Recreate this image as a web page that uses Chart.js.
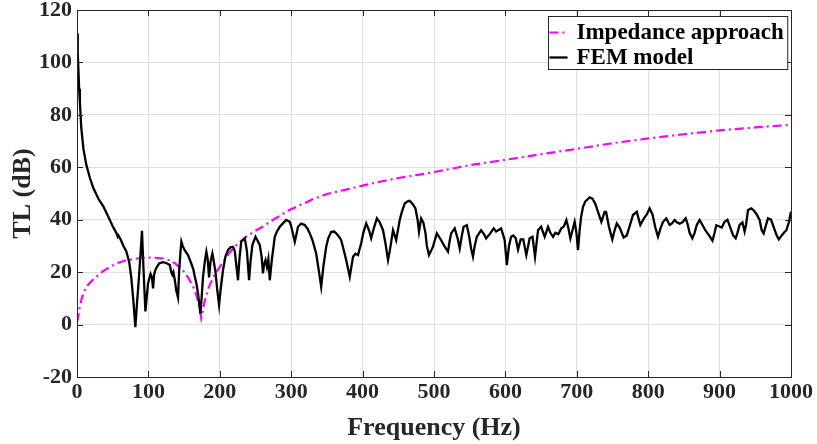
<!DOCTYPE html>
<html>
<head>
<meta charset="utf-8">
<title>TL vs frequency</title>
<script src="https://cdn.jsdelivr.net/npm/chart.js@4.4.1/dist/chart.umd.min.js"></script>
<style>
  html, body { margin: 0; padding: 0; background: #fff; }
  #wrap { width: 817px; height: 444px; position: relative; }
</style>
</head>
<body>
<div id="wrap"><canvas id="tl"></canvas></div>
<script>
const serif = "'Liberation Serif', 'Times New Roman', serif";
const ink = '#262626';

const xTicks = { min: 0, max: 1000, step: 100 };
const yTicks = { min: -20, max: 120, step: 20 };

const seriesNames = ['Impedance approach', 'FEM model'];

// [frequency (Hz), TL (dB)]
const impedanceCurve = [
  [0, 1], [1.4, 2.3], [3, 5.5], [6, 9.3], [9, 12], [13, 14.4], [20, 16.5], [27, 18.2],
  [36, 20.3], [46, 22], [57, 23.5], [69, 24.6], [80, 25], [90, 25.4], [100, 25.6],
  [110, 25.5], [121, 25.2], [130, 24.5], [137, 23.4], [144, 21.8], [150, 20.2],
  [156, 17.8], [162.5, 14.6], [167, 11.5], [170, 8.5], [172.5, 5], [174, 2.5],
  [176, 5], [178, 8], [181, 11], [185, 14.5], [190, 17.5], [195, 20], [200, 22],
  [206, 24.5], [212, 26.8], [219, 29.2], [228, 31.5], [237, 33.5], [248, 35.5],
  [260, 37.3], [272, 39.5], [284, 41.5], [296, 43.5], [307, 44.9], [320, 46.5],
  [330, 47.8], [350, 49.8], [377, 51.5], [400, 53], [424, 54.5], [452, 56],
  [475, 57], [501, 58.2], [550, 60.8], [601, 62.9], [650, 65], [704, 67.2],
  [750, 69.2], [800, 71], [850, 72.6], [900, 74.1], [950, 75.2], [1000, 76.2]
];

const femCurve = [
  [0, 111], [1, 104], [2, 97], [3, 90], [4, 85], [6, 75], [9, 67], [13, 61], [18, 56],
  [23, 52], [30, 48], [37, 45], [44, 41], [50, 37.5], [55, 35], [57, 33.5], [58, 34],
  [61, 32.5], [65, 30], [69, 28], [73, 24], [76, 18], [79, 9], [81.7, -1], [84, 8],
  [86.5, 17], [89, 27], [91, 35.8], [93, 22], [95.8, 5], [97.5, 10], [99.5, 15.7],
  [103, 19.3], [105, 18], [106.5, 13.8], [108, 19], [110, 21], [115, 23.3], [120, 23.8],
  [125, 23.5], [130, 22.7], [132, 20], [133.6, 19], [135, 20], [137, 17], [139, 13],
  [141.5, 10.3], [143, 20], [145, 28], [146.2, 31.6], [148, 30], [150.8, 28.4],
  [155.5, 26.5], [160, 23.3], [163, 21], [165, 18.2], [167, 16], [169.5, 11.9],
  [172.8, 4.2], [174.5, 10], [176.5, 18.2], [179, 24], [181.2, 27.8], [183, 25],
  [185, 18], [187, 24], [189.6, 27.1], [191, 25], [194, 20], [196.5, 13], [199, 7.4],
  [201, 13], [204.5, 20.8], [208, 26], [211.5, 28.4], [215, 29.5], [218.5, 29.7],
  [221, 28], [223, 23], [225.5, 16.9], [227.5, 25], [230, 31.6], [235, 32.9], [238, 28],
  [241, 16.9], [243, 24], [245.6, 30.3], [250, 33.5], [253, 32], [256, 30.3],
  [258.5, 26], [260.5, 19.5], [262, 23], [264, 24.6], [266, 22], [268, 25], [270, 16.9],
  [273, 25], [277, 33.5], [280, 35.5], [284, 37.3], [288, 38.5], [293, 39.9], [298, 39.2],
  [300, 37.5], [303, 34], [305, 31.6], [307, 34], [309.5, 37.3], [314, 38.5], [319, 38],
  [323, 36.5], [326, 34.8], [330, 32], [335, 27.1], [339, 20], [342, 14.4], [345, 22],
  [349, 29.7], [352, 33], [356, 35.4], [360, 35.5], [363, 34.8], [367, 33.5], [370, 32.2],
  [374, 28], [377, 24.6], [382, 18.2], [386.6, 25.9], [390, 27], [393.6, 26.5], [396, 29],
  [398, 31], [401, 35], [405, 38.6], [409, 36], [412, 32.9], [416, 37], [420, 40.5],
  [424, 39], [428.6, 36], [432, 31], [435.6, 24.6], [438, 28], [442.6, 36], [447, 32.2],
  [452, 39.9], [455, 43], [459, 46.2], [463, 47], [466, 47.2], [470, 46], [474, 44.3],
  [477, 40], [479, 35.4], [482, 40.5], [485, 39], [488, 35], [490, 30], [493, 26.5],
  [498.6, 29.7], [501, 32], [504, 34.8], [507, 33.5], [510, 32.2], [515, 29.7],
  [519.6, 27.8], [522, 32], [524, 34.8], [529, 36.7], [533, 33], [536, 29], [539, 34],
  [541.5, 37.3], [546, 37.9], [549, 34], [552, 29], [554.6, 25.9], [557, 30], [560, 33.5],
  [566, 36], [570, 34.5], [573, 32.9], [578, 34.5], [583.6, 36.7], [587, 35.5], [590, 36],
  [594, 36.7], [597, 34], [599, 32.2], [602, 22.7], [605, 30], [608, 33.5], [611, 34],
  [614.5, 32.9], [617.7, 28.6], [621.4, 32.5], [625, 32.5], [629.3, 26.5], [634, 32.9],
  [638, 33.5], [641.5, 25.9], [645.7, 36], [650, 37.3], [655, 33.5], [659.7, 37.3],
  [663, 35], [666.7, 33.5], [670, 35], [674, 34.5], [678.4, 36.7], [682, 37.5],
  [685.4, 39.9], [688, 37], [691, 32.9], [694, 36], [697, 39.2], [699.5, 35], [701.7, 28.4],
  [704, 36], [706, 41], [708.7, 44.9], [712, 47], [718, 48.5], [722, 48], [726, 46],
  [729.7, 43], [734.4, 39.2], [739, 43], [741, 43], [745, 37.3], [749.7, 32.5], [753, 36],
  [756, 38.6], [760, 37], [765.6, 33.2], [770, 34], [774, 37.5], [778.7, 41.8], [784, 43],
  [789, 38], [794, 40.5], [798, 42], [802, 44.3], [806, 42], [810, 37], [813.7, 33.5],
  [817, 36.5], [820.7, 39.2], [825.4, 40.5], [830, 38], [833, 38.5], [837, 39.9], [840, 39],
  [844, 38.5], [848, 39], [852.5, 40.5], [855, 38.5], [858, 35], [861.8, 32.9], [865, 35],
  [868, 38], [872, 39.9], [876, 38], [880, 36], [885, 34.1], [890, 32], [893, 35],
  [895.4, 37.9], [899, 37.5], [903, 37], [907, 39.2], [911, 40], [915, 37], [919, 34],
  [922.5, 32.9], [925, 35], [928, 38], [932, 39], [935, 35.5], [937, 38], [939.8, 43.7],
  [944.4, 44.3], [948, 43.5], [952, 42], [956, 39.9], [959, 36], [961.7, 34.8], [965, 38],
  [967.8, 40.5], [972, 40], [976, 37], [980, 34], [983, 32.5], [987, 34], [990, 35],
  [993.5, 36], [997, 39], [1000, 43]
];

const toXY = (pairs) => pairs.map(([x, y]) => ({ x, y }));

// matlab style box: full frame, inward ticks, legend in the upper right corner
const matlabBox = {
  id: 'matlabBox',
  afterDraw(chart) {
    const { ctx, chartArea: a, scales } = chart;
    const tick = 6;
    ctx.save();
    ctx.strokeStyle = ink;
    ctx.lineWidth = 1;
    ctx.beginPath();
    for (const t of scales.x.ticks) {
      const px = Math.round(scales.x.getPixelForValue(t.value)) + 0.5;
      ctx.moveTo(px, a.bottom); ctx.lineTo(px, a.bottom - tick);
      ctx.moveTo(px, a.top); ctx.lineTo(px, a.top + tick);
    }
    for (const t of scales.y.ticks) {
      const py = Math.round(scales.y.getPixelForValue(t.value)) + 0.5;
      ctx.moveTo(a.left, py); ctx.lineTo(a.left + tick, py);
      ctx.moveTo(a.right, py); ctx.lineTo(a.right - tick, py);
    }
    ctx.stroke();
    ctx.strokeRect(Math.round(a.left) + 0.5, Math.round(a.top) + 0.5,
      Math.round(a.right - a.left), Math.round(a.bottom - a.top));

    // legend
    ctx.font = `bold 23px ${serif}`;
    const textW = Math.max(...seriesNames.map((n) => ctx.measureText(n).width));
    const sample = 18, gap = 9, padL = 1, padR = 4, rowH = 25;
    const boxW = padL + sample + gap + textW + padR;
    const boxH = 53;
    const bx = Math.round(a.right - 4 - boxW) + 0.5;
    const by = Math.round(a.top + 6) + 0.5;
    ctx.fillStyle = '#fff';
    ctx.fillRect(bx, by, boxW, boxH);
    ctx.strokeStyle = ink;
    ctx.strokeRect(bx, by, boxW, boxH);
    const rows = [chart.data.datasets[0], chart.data.datasets[1]];
    rows.forEach((ds, i) => {
      const cy = by + 16 + i * rowH;
      ctx.save();
      ctx.strokeStyle = ds.borderColor;
      ctx.lineWidth = ds.borderWidth;
      ctx.setLineDash(ds.borderDash || []);
      ctx.beginPath();
      ctx.moveTo(bx + padL, cy);
      ctx.lineTo(bx + padL + sample, cy);
      ctx.stroke();
      ctx.restore();
      ctx.fillStyle = '#000';
      ctx.textBaseline = 'middle';
      ctx.textAlign = 'left';
      ctx.fillText(ds.label, bx + padL + sample + gap, cy + 1);
    });
    ctx.restore();
  }
};

new Chart(document.getElementById('tl'), {
  type: 'line',
  data: {
    datasets: [
      {
        label: seriesNames[0],
        data: toXY(impedanceCurve),
        borderColor: '#ff00ff',
        borderWidth: 2.2,
        borderDash: [9, 4, 2, 4],
        pointRadius: 0,
        tension: 0,
        order: 1
      },
      {
        label: seriesNames[1],
        data: toXY(femCurve),
        borderColor: '#000000',
        borderWidth: 2.3,
        pointRadius: 0,
        tension: 0,
        order: 0
      }
    ]
  },
  options: {
    responsive: true,
    maintainAspectRatio: false,
    animation: false,
    layout: { padding: { top: 10, right: 26, left: 0, bottom: 0 } },
    plugins: {
      legend: { display: false },
      tooltip: { enabled: false }
    },
    scales: {
      x: {
        type: 'linear',
        min: xTicks.min,
        max: xTicks.max,
        afterFit: (s) => { s.height = 67; s.paddingLeft = 0; s.paddingRight = 0; },
        ticks: {
          stepSize: xTicks.step,
          color: ink,
          padding: 2,
          maxRotation: 0,
          callback: (v) => String(v),
          font: { family: serif, size: 22, weight: 'bold' }
        },
        grid: { color: '#e0e0e0', drawTicks: false },
        border: { display: false },
        title: {
          display: true,
          text: 'Frequency (Hz)',
          color: ink,
          padding: 0,
          font: { family: serif, size: 26, weight: 'bold' }
        }
      },
      y: {
        min: yTicks.min,
        max: yTicks.max,
        afterFit: (s) => { s.width = 77; s.paddingTop = 0; s.paddingBottom = 0; },
        ticks: {
          stepSize: yTicks.step,
          color: ink,
          padding: 5,
          callback: (v) => String(v),
          font: { family: serif, size: 22, weight: 'bold' }
        },
        grid: { color: '#e0e0e0', drawTicks: false },
        border: { display: false },
        title: {
          display: true,
          text: 'TL (dB)',
          color: ink,
          padding: { top: 8, bottom: 0 },
          font: { family: serif, size: 26, weight: 'bold' }
        }
      }
    }
  },
  plugins: [matlabBox]
});
</script>
</body>
</html>
